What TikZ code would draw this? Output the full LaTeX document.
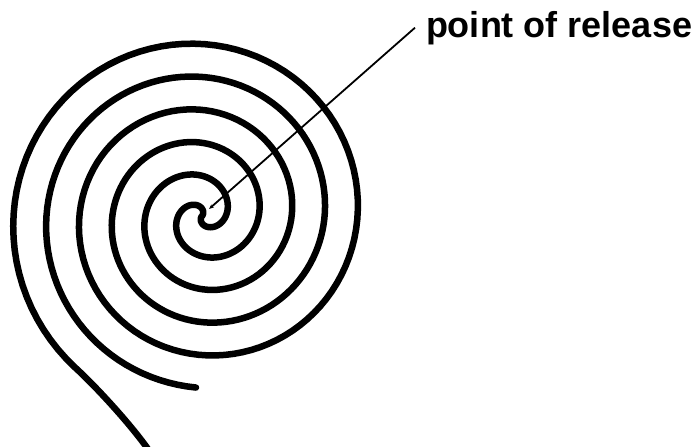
\documentclass[tikz,border=0pt]{standalone}
\usepackage{fontspec}
\setmainfont{Liberation Sans}
\usetikzlibrary{arrows.meta}
\tikzset{
  coil/.style={line width=6.5pt, line cap=round, line join=round},
  leader/.style={line width=1.8pt, -{Stealth[length=5pt, width=4pt]}},
  tag/.style={font=\fontsize{36}{40}\selectfont\bfseries, inner sep=0pt, outer xsep=11pt},
}
\begin{document}
\begin{tikzpicture}[x=1pt, y=-1pt]
\useasboundingbox (0,0) rectangle (694,447);
% centre of the double coil and the free end of the outer arm
\coordinate (c) at (202,216);
\coordinate (tail) at (150,452);
\draw[coil] plot[domain=92:1030, samples=300] ({202+0.183*(1030-\x)*cos(\x)}, {216+0.183*(1030-\x)*sin(\x)})
  -- plot[domain=1210:130, samples=300] ({202+0.183*(1210-\x)*cos(\x)}, {216+0.183*(1210-\x)*sin(\x)})
  .. controls (97,387.5) and (133,427) .. (tail);
% label
\node[tag, anchor=base west] (release) at (415,37) {point of release};
\coordinate (tip) at (209,209);
\draw[leader] (release.west) -- (tip);
\end{tikzpicture}
\end{document}
